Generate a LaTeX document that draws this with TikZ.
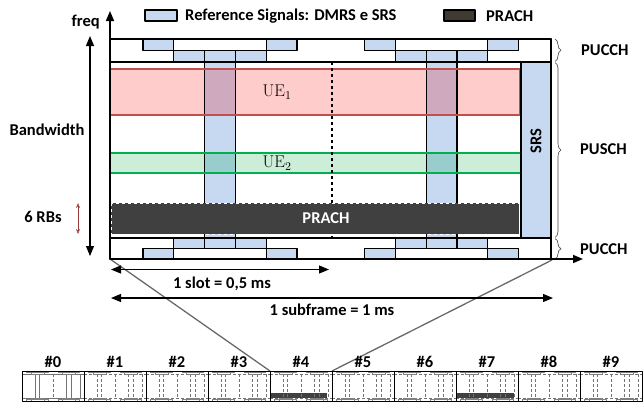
\RequirePackage{fix-cm}
\documentclass[tikz,border=0pt]{standalone}
\usepackage[no-math]{fontspec}
\setmainfont{Carlito}
\usetikzlibrary{arrows.meta,decorations.pathreplacing}

\definecolor{rsblue}{RGB}{198,217,241}
\definecolor{uepink}{RGB}{255,204,204}
\definecolor{uered}{RGB}{192,80,77}
\definecolor{uemix}{RGB}{207,170,191}
\definecolor{uegreen}{RGB}{204,238,216}
\definecolor{uegreenline}{RGB}{0,176,80}
\definecolor{uegmix}{RGB}{153,204,204}
\definecolor{prachgray}{RGB}{64,64,64}
\definecolor{legendbrown}{RGB}{64,58,51}
\definecolor{zoomgray}{RGB}{105,105,105}
\definecolor{rbred}{RGB}{150,60,60}

\begin{document}
\begin{tikzpicture}[x=1pt,y=-1pt,line join=round,
  >={Triangle[length=10pt,width=8pt]},
  font=\fontsize{16.5}{18}\selectfont\bfseries,
  lbl/.style={inner sep=0pt},
  rsbox/.style={draw,line width=1.1pt,fill=rsblue},
  band/.style={draw,line width=1.4pt},
  brc/.style={decorate,decoration={brace,amplitude=6pt},line width=0.6pt,draw=black!75},
  minirs/.style={draw=black!50,line width=0.3pt},
  miniline/.style={draw=black!55,line width=0.5pt}]
\useasboundingbox (0,0) rectangle (643,410);
\def\w{30.8}
\def\xl{110} \def\xr{551}

% legend
\node[rsbox,minimum width=32pt,minimum height=11pt,inner sep=0pt] (legrs) at (161,15.5) {};
\node[lbl,anchor=west] (legrstxt) at (185,16) {Reference Signals: DMRS e SRS};
\node[draw,line width=1.1pt,fill=legendbrown,minimum width=31pt,minimum height=11pt,inner sep=0pt] (legpr) at (459.5,15.5) {};
\node[lbl,anchor=west] (legprtxt) at (486,16) {PRACH};

% DMRS columns through the PUSCH part
\foreach \s in {143,364.6}
  \fill[rsblue] (\s+2*\w,62) rectangle (\s+3*\w,238);

% UE allocations
\fill[uepink] (\xl,69) rectangle (520,115);
\fill[uegreen] (\xl,153) rectangle (521,173);
\foreach \s in {143,364.6}{
  \fill[uemix] (\s+2*\w,69) rectangle (\s+3*\w,115);
  \fill[uegmix] (\s+2*\w,153) rectangle (\s+3*\w,173);
  \draw[line width=1.1pt] (\s+2*\w,62) -- (\s+2*\w,238) (\s+3*\w,62) -- (\s+3*\w,238);
}
\draw[uered,line width=1.4pt] (\xl,69) rectangle (520,115);
\draw[uegreenline,line width=1.4pt] (\xl,153) rectangle (521,173);
\node[lbl,font=\fontsize{17}{18}\selectfont] (ue1) at (277,92) {$\mathrm{UE}_1$};
\node[lbl,font=\fontsize{17}{18}\selectfont] (ue2) at (277,163) {$\mathrm{UE}_2$};

% slot border
\draw[line width=1.1pt,dashed] (332,62) -- (332,238);

% PRACH and SRS
\draw[fill=prachgray,draw=white,dashed,line width=0.8pt] (111,203) rectangle (519,234);
\node[lbl,text=white] (prach) at (326,218.5) {PRACH};
\draw[rsbox] (521,62) rectangle (\xr,238);
\node[lbl,rotate=90] (srs) at (536,141) {SRS};

% PUCCH bands with their reference signal pieces
\draw[band,fill=white] (\xl,39) rectangle (\xr,62);
\draw[band,fill=white] (\xl,238) rectangle (\xr,259);
\foreach \s in {143,364.6}{
  \draw[rsbox] (\s,39) rectangle ++(\w,11.5);
  \draw[rsbox] (\s+4*\w,39) rectangle ++(\w,11.5);
  \draw[rsbox] (\s,248.5) rectangle ++(\w,10.5);
  \draw[rsbox] (\s+4*\w,248.5) rectangle ++(\w,10.5);
  \foreach \i in {1,2,3}{
    \draw[rsbox] (\s+\i*\w,50.5) rectangle ++(\w,11.5);
    \draw[rsbox] (\s+\i*\w,238) rectangle ++(\w,10.5);
  }
}
\draw[band] (\xl,39) rectangle (\xr,62);
\draw[band] (\xl,238) rectangle (\xr,259);

% braces on the right
\draw[brc] (555,39) -- (555,61.5);
\draw[brc] (555,62.5) -- (555,237.5);
\draw[brc] (555,238.5) -- (555,259);
\node[lbl,anchor=west] (pucchtop) at (581,50) {PUCCH};
\node[lbl,anchor=west] (pusch) at (580,149) {PUSCH};
\node[lbl,anchor=west] (pucchbot) at (580,249) {PUCCH};

% lines to the zoomed subframe
\draw[zoomgray,line width=1.3pt] (\xl,259) -- (270,371);
\draw[zoomgray,line width=1.3pt] (552,260) -- (332,371);

% axes
\draw[->,line width=1.6pt] (\xl,259) -- (\xl,11);
\draw[->,line width=1.6pt] (\xl,259) -- (583,259);
\node[lbl,anchor=east] (freq) at (100,22) {freq};

% bandwidth and durations
\draw[<->,line width=1.1pt] (90,36) -- (90,256);
\node[lbl] (bw) at (47,130) {Bandwidth};
\draw[{Stealth[length=5pt,width=4pt,open]}-{Stealth[length=5pt,width=4pt,open]},rbred,line width=0.5pt] (78,203) -- (78,234);
\node[lbl] (rbs) at (43,217) {6 RBs};
\draw[<->,line width=1.1pt] (111,269.5) -- (329,269.5);
\node[lbl] (slot) at (222,284) {1 slot = 0,5 ms};
\draw[<->,line width=1.1pt] (111,298) -- (553,298);
\node[lbl] (subfr) at (332,310) {1 subframe = 1 ms};

% radio frame: ten subframes, each a small copy of the grid
\foreach \k in {0,...,9}{
  \node[lbl] (sf\k) at (53+62*\k,362) {\#\k};
  \ifnum\k=0\relax
    \tikzset{minik/.style={solid}}
  \else
    \tikzset{minik/.style={densely dashed}}
  \fi
  \begin{scope}[shift={(22+62*\k,371)},xscale=62/441,yscale=30/220]
    \ifnum\k=4\relax \fill[prachgray] (2,164) rectangle (409,195); \fi
    \ifnum\k=7\relax \fill[prachgray] (2,164) rectangle (409,195); \fi
    \foreach \xx in {94.6,125.4,316.2,347,411}
      \draw[miniline,minik] (\xx,23) -- (\xx,199);
    \draw[miniline,densely dashed] (222,23) -- (222,199);
    \draw[miniline,minik] (0,23) -- (441,23) (0,199) -- (441,199);
    \foreach \s in {33,254.6}{
      \draw[minirs] (\s,0) rectangle ++(\w,11.5) (\s+4*\w,0) rectangle ++(\w,11.5);
      \draw[minirs] (\s+\w,11.5) rectangle ++(3*\w,11.5);
      \draw[minirs] (\s+\w,199) rectangle ++(3*\w,10.5);
      \draw[minirs] (\s,209.5) rectangle ++(\w,10.5) (\s+4*\w,209.5) rectangle ++(\w,10.5);
    }
    \draw[line width=0.7pt] (0,0) rectangle (441,220);
  \end{scope}
}
\end{tikzpicture}
\end{document}
